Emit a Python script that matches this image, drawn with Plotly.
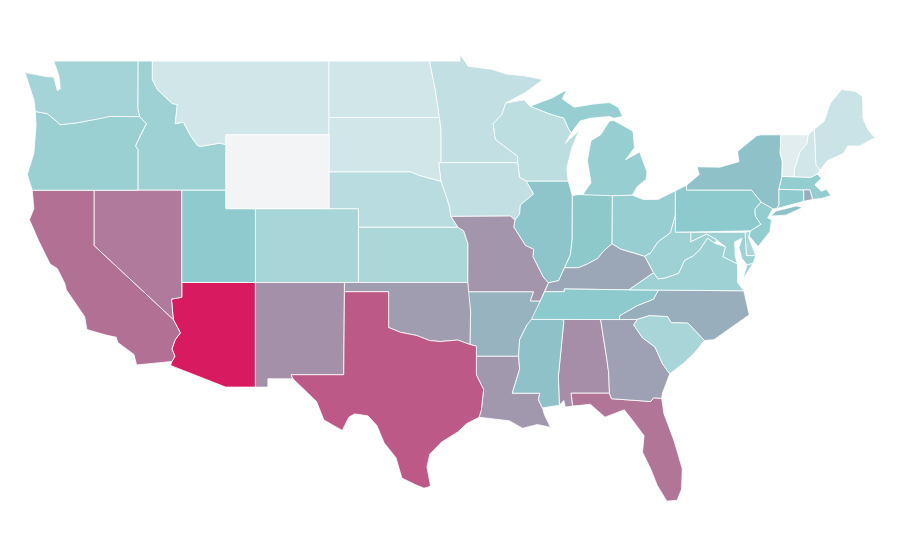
import plotly.graph_objects as go
from plotly.colors import sample_colorscale

states = ["AL","AR","AZ","CA","CO","CT","DE","FL","GA","IA","ID","IL","IN","KS","KY","LA","MA","MD","ME","MI","MN","MO","MS","MT","NC","ND","NE","NH","NJ","NM","NV","NY","OH","OK","OR","PA","RI","SC","SD","TN","TX","UT","VA","VT","WA","WI","WV","WY"]
values = [54,39,100,66,22,29,21,64,47,14,25,32,31,21,44,50,28,25,12,27,14,51,33,10,41,10,17,10,28,53,62,33,27,48,26,30,41,22,10,30,75,29,25,5,23,16,25,0]
colorscale = [[0,"#f2f4f6"],[0.3,"#8ccacd"],[1,"#d81b60"]]
lon_range = [-125.857, -64.717]
lat_range = [21.526, 51.876]

# Simplified state borders (longitude, latitude), approximated by hand.
outlines = {
"WA":[[(-123.0,49),(-117.03,49),(-117.04,46.42),(-116.92,45.99),(-118.98,46),(-119.3,45.93),(-121.2,45.65),(-122.3,45.55),(-122.8,45.9),(-123.2,46.15),(-124,46.27),(-124.1,46.9),(-124.7,48.38),(-123.2,48.15),(-122.75,48.13),(-122.5,47.4),(-122.3,47.5),(-122.4,48.2),(-122.75,49)]],
"OR":[[(-124,46.27),(-123.2,46.15),(-122.8,45.9),(-122.3,45.55),(-121.2,45.65),(-119.3,45.93),(-118.98,46),(-116.92,45.99),(-116.46,45.6),(-116.85,45),(-117.2,44.4),(-117.03,44.2),(-117.03,42),(-124.21,42),(-124.55,42.85),(-124.1,44),(-123.95,45.5)]],
"ID":[[(-117.03,49),(-116.05,49),(-116.05,48),(-115.7,47.45),(-114.7,46.7),(-114.35,46.65),(-114.5,45.6),(-113.95,45.7),(-113.45,44.95),(-113,44.45),(-112.8,44.37),(-111.5,44.55),(-111.05,44.48),(-111.05,42),(-117.03,42),(-117.03,44.2),(-117.2,44.4),(-116.85,45),(-116.46,45.6),(-116.92,45.99),(-117.04,46.42)]],
"MT":[[(-116.05,49),(-104.05,49),(-104.05,45),(-111.05,45),(-111.05,44.48),(-111.5,44.55),(-112.8,44.37),(-113,44.45),(-113.45,44.95),(-113.95,45.7),(-114.5,45.6),(-114.35,46.65),(-114.7,46.7),(-115.7,47.45),(-116.05,48)]],
"WY":[[(-111.05,45),(-104.05,45),(-104.05,41),(-111.05,41)]],
"ND":[[(-104.05,49),(-97.23,49),(-96.85,47.5),(-96.56,45.94),(-104.05,45.94)]],
"SD":[[(-104.05,45.94),(-96.56,45.94),(-96.45,45.3),(-96.45,43.5),(-96.6,43.5),(-96.45,42.49),(-97.9,42.8),(-98.5,43),(-104.05,43)]],
"NE":[[(-104.05,43),(-98.5,43),(-97.9,42.8),(-96.45,42.49),(-96.1,41.7),(-95.9,41.2),(-95.77,40.58),(-95.31,40),(-102.05,40),(-102.05,41),(-104.05,41)]],
"CO":[[(-109.05,41),(-102.05,41),(-102.05,37),(-109.05,37)]],
"KS":[[(-102.05,40),(-95.31,40),(-94.9,39.8),(-94.61,39.1),(-94.62,37),(-102.05,37)]],
"UT":[[(-111.05,42),(-111.05,41),(-109.05,41),(-109.05,37),(-114.05,37),(-114.05,42)]],
"NV":[[(-120,42),(-114.05,42),(-114.05,36.2),(-114.75,36.1),(-114.63,35),(-120,39)]],
"CA":[[(-124.21,42),(-120,42),(-120,39),(-114.63,35),(-114.15,34.27),(-114.5,33.9),(-114.72,33.4),(-114.52,33),(-114.72,32.72),(-117.12,32.53),(-117.3,33.1),(-118.4,33.75),(-118.5,34.03),(-119.2,34.15),(-120.5,34.45),(-120.65,35.15),(-121.9,36.6),(-122,36.95),(-122.5,37.75),(-123,38),(-123.8,39.3),(-124.4,40.4),(-124.1,41)]],
"AZ":[[(-114.05,37),(-109.05,37),(-109.05,31.33),(-111.07,31.33),(-114.81,32.5),(-114.72,32.72),(-114.52,33),(-114.72,33.4),(-114.5,33.9),(-114.15,34.27),(-114.63,35),(-114.75,36.1),(-114.05,36.2)]],
"NM":[[(-109.05,37),(-103,37),(-103.05,32),(-106.62,32),(-106.5,31.78),(-108.2,31.78),(-108.2,31.33),(-109.05,31.33)]],
"TX":[[(-103,36.5),(-100,36.5),(-100,34.56),(-99.2,34.3),(-98.1,34.13),(-97.2,33.85),(-96.5,33.8),(-95.3,33.88),(-94.48,33.64),(-94.04,33.55),(-94.04,31.99),(-93.55,31.2),(-93.7,30.1),(-93.85,29.7),(-94.7,29.35),(-95.3,28.9),(-96.4,28.35),(-97.2,27.7),(-97.4,27),(-97.15,25.96),(-97.6,25.85),(-98.2,26.05),(-99.1,26.4),(-99.5,27.5),(-100.3,28.3),(-100.8,29.25),(-101.4,29.77),(-102.3,29.88),(-102.7,29.7),(-103.15,28.98),(-104.4,29.55),(-104.9,30.55),(-106.5,31.78),(-106.62,32),(-103.05,32)]],
"OK":[[(-103,37),(-94.62,37),(-94.43,35.4),(-94.48,33.64),(-95.3,33.88),(-96.5,33.8),(-97.2,33.85),(-98.1,34.13),(-99.2,34.3),(-100,34.56),(-100,36.5),(-103,36.5)]],
"MN":[[(-97.23,49),(-95.15,49),(-95.15,49.38),(-94.6,48.72),(-93,48.55),(-92,48.3),(-90.8,48.2),(-89.5,48),(-90.7,47.3),(-92.05,46.72),(-92.3,46.1),(-92.9,45.6),(-92.75,44.75),(-91.25,43.85),(-91.22,43.5),(-96.45,43.5),(-96.45,45.3),(-96.56,45.94),(-96.85,47.5)]],
"IA":[[(-96.6,43.5),(-91.22,43.5),(-91.1,42.7),(-90.65,42.5),(-90.15,41.8),(-91.05,41.2),(-91.1,40.7),(-91.42,40.38),(-91.73,40.6),(-95.77,40.58),(-95.9,41.2),(-96.1,41.7),(-96.45,42.49)]],
"MO":[[(-95.77,40.58),(-91.73,40.6),(-91.42,40.38),(-91.5,40),(-90.7,39),(-90.15,38.8),(-90.2,38.4),(-89.5,37.3),(-89.15,36.98),(-89.4,36.5),(-89.7,36),(-90.37,36),(-90.15,36.5),(-94.62,36.5),(-94.62,37),(-94.61,39.1),(-94.9,39.8),(-95.31,40)]],
"AR":[[(-94.62,36.5),(-90.15,36.5),(-90.37,36),(-89.7,36),(-90.1,35.1),(-90.6,34.7),(-91.1,33.9),(-91.17,33),(-94.04,33),(-94.04,33.55),(-94.48,33.64),(-94.43,35.4)]],
"LA":[[(-94.04,33),(-91.17,33),(-91.1,32.3),(-91.6,31),(-89.73,31),(-89.83,30.65),(-89.55,30.2),(-89.4,29.8),(-89,29.15),(-89.9,29.3),(-90.9,29.1),(-91.8,29.5),(-92.3,29.55),(-93.85,29.7),(-93.7,30.1),(-93.55,31.2),(-94.04,31.99)]],
"WI":[[(-92.05,46.72),(-90.8,46.9),(-90.4,46.55),(-89.1,46.14),(-88.1,45.9),(-87.8,45.35),(-87.6,45.1),(-88,44.55),(-87.05,45.25),(-87.55,44.3),(-87.9,43.2),(-87.8,42.5),(-90.65,42.5),(-91.1,42.7),(-91.22,43.5),(-91.25,43.85),(-92.75,44.75),(-92.9,45.6),(-92.3,46.1)]],
"IL":[[(-90.65,42.5),(-87.8,42.5),(-87.52,41.7),(-87.53,39.35),(-87.65,38.5),(-88.05,37.8),(-88.45,37.1),(-89.15,36.98),(-89.5,37.3),(-90.2,38.4),(-90.15,38.8),(-90.7,39),(-91.5,40),(-91.42,40.38),(-91.1,40.7),(-91.05,41.2),(-90.15,41.8)]],
"IN":[[(-87.52,41.7),(-87.2,41.76),(-84.8,41.76),(-84.82,39.1),(-85.4,38.7),(-85.8,38.3),(-86.5,38),(-87.1,37.8),(-88.05,37.8),(-87.65,38.5),(-87.53,39.35)]],
"MI":[[(-86.82,41.76),(-86.25,42.4),(-86.5,43.6),(-86.25,44.7),(-85.6,45),(-85,45.75),(-84.7,45.78),(-83.4,45.2),(-83.3,44.3),(-83.9,43.65),(-82.95,44.07),(-82.45,43),(-82.5,42.6),(-83.1,42.2),(-83.45,41.73),(-84.8,41.7)],[(-90.4,46.55),(-89.1,46.14),(-88.1,45.9),(-87.8,45.35),(-87.6,45.1),(-87,45.75),(-86.3,45.9),(-85,46),(-84.7,45.9),(-84.1,46),(-84.4,46.5),(-85,46.75),(-86.1,46.67),(-87.4,46.5),(-88.2,46.95),(-87.9,47.45),(-88.9,47),(-89.8,46.75)]],
"OH":[[(-84.8,41.7),(-83.45,41.73),(-82.7,41.5),(-81.7,41.5),(-80.52,41.97),(-80.52,40.64),(-80.85,39.7),(-81.7,39.2),(-82.2,38.6),(-82.6,38.42),(-83.3,38.6),(-84.2,38.8),(-84.82,39.1)]],
"KY":[[(-88.05,37.8),(-87.1,37.8),(-86.5,38),(-85.8,38.3),(-85.4,38.7),(-84.82,39.1),(-84.2,38.8),(-83.3,38.6),(-82.6,38.42),(-82,37.53),(-83.68,36.6),(-88.07,36.65),(-88.07,36.5),(-89.4,36.5),(-89.15,36.98),(-88.45,37.1)]],
"TN":[[(-89.7,36),(-89.4,36.5),(-88.07,36.5),(-88.07,36.65),(-83.68,36.6),(-81.68,36.59),(-82,36.1),(-83.1,35.75),(-84.3,35.2),(-84.32,34.99),(-90.3,35)]],
"MS":[[(-90.3,35),(-88.2,35),(-88.1,34.9),(-88.47,31.9),(-88.4,30.35),(-89.55,30.2),(-89.83,30.65),(-89.73,31),(-91.6,31),(-91.1,32.3),(-91.17,33),(-91.1,33.9),(-90.6,34.7)]],
"AL":[[(-88.2,35),(-85.6,35),(-85.18,32.87),(-85.05,32.1),(-85,31),(-87.6,31),(-87.5,30.3),(-88,30.25),(-88.1,30.6),(-88.4,30.35),(-88.47,31.9),(-88.1,34.9)]],
"GA":[[(-85.6,35),(-83.1,35),(-83.35,34.7),(-82.75,34),(-81.9,33.5),(-81.4,32.6),(-80.9,32.05),(-81.4,31),(-81.45,30.72),(-82,30.75),(-82.2,30.55),(-84.86,30.7),(-85,31),(-85.05,32.1),(-85.18,32.87)]],
"FL":[[(-87.6,31),(-85,31),(-84.86,30.7),(-82.2,30.55),(-82,30.75),(-81.45,30.72),(-81.3,29.9),(-80.6,28.4),(-80.05,26.9),(-80.1,25.8),(-80.4,25.2),(-81.1,25.15),(-81.75,26),(-82.2,26.9),(-82.75,27.8),(-82.65,28.7),(-83.4,29.5),(-84,30.1),(-85.3,29.7),(-86.3,30.4),(-87.5,30.3)]],
"SC":[[(-83.35,34.7),(-83.1,35),(-82.3,35.2),(-81.05,35.15),(-80.8,34.82),(-79.67,34.8),(-78.55,33.86),(-79.2,33.2),(-80,32.6),(-80.9,32.05),(-81.4,32.6),(-81.9,33.5),(-82.75,34)]],
"NC":[[(-84.32,34.99),(-84.3,35.2),(-83.1,35.75),(-82,36.1),(-81.68,36.59),(-75.87,36.55),(-75.5,35.25),(-76.5,34.7),(-77.9,33.9),(-78.55,33.86),(-79.67,34.8),(-80.8,34.82),(-81.05,35.15),(-82.3,35.2),(-83.1,35)]],
"VA":[[(-83.68,36.6),(-82,37.53),(-81.7,37.2),(-81.2,37.25),(-80.3,37.5),(-79.9,38.2),(-79.3,38.45),(-78.87,38.77),(-78.35,39.4),(-77.83,39.13),(-77.12,38.93),(-77.3,38.4),(-76.3,38),(-76.3,37),(-75.87,36.55),(-81.68,36.59)],[(-75.95,37.15),(-75.6,37.6),(-75.25,38.03),(-75.65,37.95)]],
"WV":[[(-82,37.53),(-82.6,38.42),(-82.2,38.6),(-81.7,39.2),(-80.85,39.7),(-80.52,40.64),(-80.52,39.72),(-79.48,39.72),(-79.48,39.2),(-78.4,39.62),(-77.72,39.32),(-77.83,39.13),(-78.35,39.4),(-78.87,38.77),(-79.3,38.45),(-79.9,38.2),(-80.3,37.5),(-81.2,37.25),(-81.7,37.2)]],
"MD":[[(-79.48,39.72),(-75.79,39.72),(-75.7,38.46),(-75.05,38.45),(-75.25,38.03),(-75.65,37.95),(-76,38.3),(-76.2,38.9),(-76,39.4),(-76.5,39.2),(-76.45,38.4),(-76.3,38),(-77.3,38.4),(-77.12,38.93),(-77.72,39.32),(-78.4,39.62),(-79.48,39.2)]],
"DE":[[(-75.79,39.72),(-75.42,39.8),(-75.55,39.45),(-75.05,38.45),(-75.7,38.46)]],
"PA":[[(-80.52,41.97),(-79.76,42.27),(-79.76,42),(-75.35,42),(-74.7,41.36),(-75.13,40.97),(-75.1,40.6),(-74.72,40.15),(-75.42,39.8),(-80.52,39.72)]],
"NJ":[[(-74.7,41.36),(-73.9,41),(-74.25,40.5),(-73.98,40.4),(-74.1,39.75),(-74.9,38.95),(-75.5,39.5),(-75.42,39.8),(-74.72,40.15),(-75.1,40.6),(-75.13,40.97)]],
"NY":[[(-79.76,42.27),(-78.9,42.85),(-79.05,43.27),(-77.5,43.25),(-76.2,43.55),(-76.3,44.1),(-75,44.95),(-74.7,45),(-73.35,45),(-73.4,44),(-73.25,43.55),(-73.28,42.75),(-73.5,42.05),(-73.49,41.2),(-73.65,41),(-73.9,41),(-74.7,41.36),(-75.35,42),(-79.76,42)],[(-74.03,40.6),(-73.7,40.87),(-72.3,41.15),(-71.87,41.07),(-73,40.65)]],
"CT":[[(-73.5,42.05),(-71.8,42.02),(-71.8,41.4),(-73.65,41),(-73.49,41.2)]],
"RI":[[(-71.8,42.02),(-71.38,42.02),(-71.2,41.5),(-71.8,41.4)]],
"MA":[[(-73.5,42.05),(-73.28,42.75),(-71.3,42.7),(-70.9,42.88),(-70.6,42.65),(-71.05,42.3),(-70.6,41.95),(-70.25,42.05),(-69.95,41.7),(-70.6,41.55),(-71.2,41.5),(-71.38,42.02),(-71.8,42.02)]],
"VT":[[(-73.35,45),(-71.5,45),(-71.6,44.5),(-72.05,44.1),(-72.45,43.1),(-72.46,42.73),(-73.28,42.75),(-73.25,43.55),(-73.4,44)]],
"NH":[[(-71.5,45),(-71.08,45.3),(-70.98,43.4),(-70.7,43.07),(-70.9,42.88),(-71.3,42.7),(-72.46,42.73),(-72.45,43.1),(-72.05,44.1),(-71.6,44.5)]],
"ME":[[(-71.08,45.3),(-70.4,45.75),(-70,46.7),(-69.23,47.46),(-68.3,47.36),(-67.8,47.07),(-67.78,45.9),(-67.45,45.3),(-66.97,44.85),(-68,44.4),(-68.8,44.4),(-69.1,44),(-70.2,43.6),(-70.7,43.07),(-70.98,43.4)]],
}

fig = go.Figure()
for st, v in zip(states, values):
    xs, ys = [], []
    for r in outlines[st]:
        xs += [p[0] for p in r] + [r[0][0], None]
        ys += [p[1] for p in r] + [r[0][1], None]
    fig.add_trace(go.Scatter(x=xs, y=ys, mode="lines", fill="toself",
                             fillcolor=sample_colorscale(colorscale, [v / 100])[0],
                             line=dict(color="white", width=0.8), name=st, hoverinfo="name", showlegend=False))

fig.update_xaxes(range=lon_range, visible=False)
fig.update_yaxes(range=lat_range, visible=False)
fig.update_layout(width=900, height=560, margin=dict(l=0, r=0, t=0, b=0),
                  paper_bgcolor="white", plot_bgcolor="white", showlegend=False)
fig.write_html("out.html")
